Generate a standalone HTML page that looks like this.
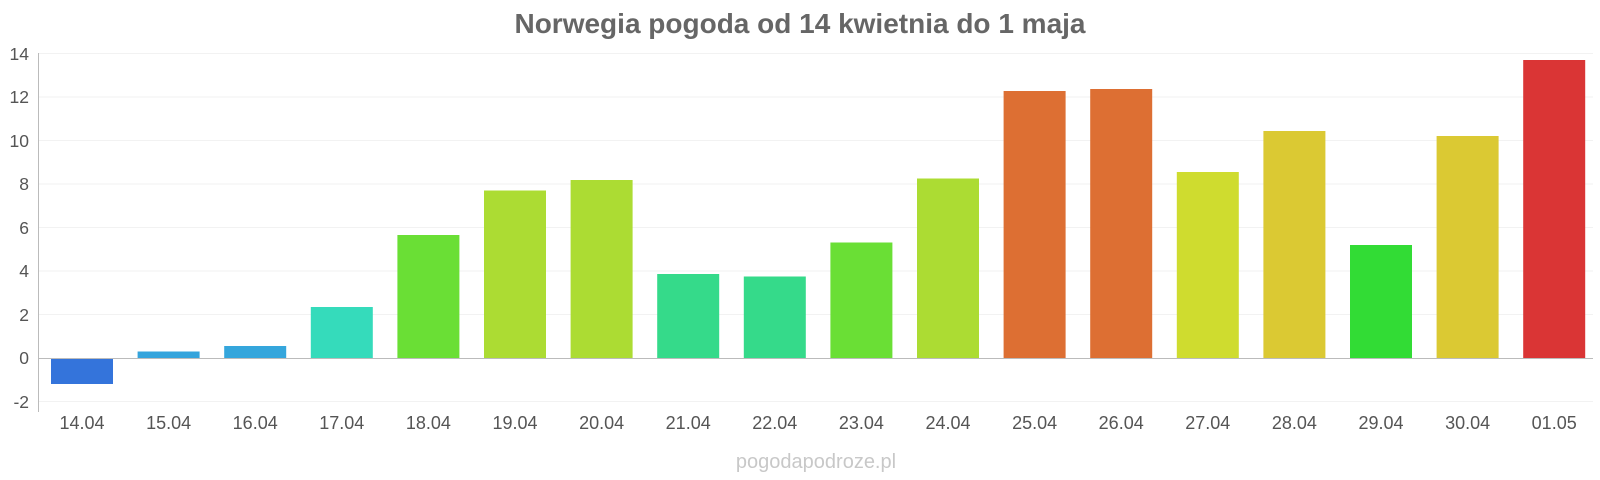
<!DOCTYPE html>
<html><head><meta charset="utf-8"><style>
html,body{margin:0;padding:0;background:#fff;}
svg{display:block;font-family:"Liberation Sans",sans-serif;}
</style></head><body>
<svg width="1600" height="480" viewBox="0 0 1600 480">
<text x="800" y="33" text-anchor="middle" font-size="28" font-weight="bold" fill="#666">Norwegia pogoda od 14 kwietnia do 1 maja</text>
<g stroke="#f2f2f2" stroke-width="1">
<line x1="38" x2="1593" y1="53.5" y2="53.5"/>
<line x1="38" x2="1593" y1="97" y2="97"/>
<line x1="38" x2="1593" y1="140.5" y2="140.5"/>
<line x1="38" x2="1593" y1="184" y2="184"/>
<line x1="38" x2="1593" y1="227.5" y2="227.5"/>
<line x1="38" x2="1593" y1="271" y2="271"/>
<line x1="38" x2="1593" y1="314.5" y2="314.5"/>
<line x1="38" x2="1593" y1="401.5" y2="401.5"/>
</g>
<g font-size="17.5" fill="#555" text-anchor="end">
<text x="29" y="60">14</text>
<text x="29" y="103">12</text>
<text x="29" y="147">10</text>
<text x="29" y="190">8</text>
<text x="29" y="234">6</text>
<text x="29" y="277">4</text>
<text x="29" y="321">2</text>
<text x="29" y="364">0</text>
<text x="29" y="408">-2</text>
</g>
<g>
<rect x="51" y="358" width="62" height="26" fill="#3474db"/>
<rect x="137.6" y="351.5" width="62" height="6.5" fill="#35a4dc"/>
<rect x="224.2" y="346" width="62" height="12" fill="#35a6dc"/>
<rect x="310.8" y="307" width="62" height="51" fill="#35dbbb"/>
<rect x="397.4" y="235" width="62" height="123" fill="#6adf35"/>
<rect x="484" y="190.5" width="62" height="167.5" fill="#acdc33"/>
<rect x="570.6" y="180" width="62" height="178" fill="#acdc33"/>
<rect x="657.2" y="274" width="62" height="84" fill="#35da8a"/>
<rect x="743.8" y="276.5" width="62" height="81.5" fill="#35da8a"/>
<rect x="830.4" y="242.5" width="62" height="115.5" fill="#6adf35"/>
<rect x="917" y="178.5" width="62" height="179.5" fill="#acdc33"/>
<rect x="1003.6" y="91" width="62" height="267" fill="#dd6f33"/>
<rect x="1090.2" y="89" width="62" height="269" fill="#dd6f33"/>
<rect x="1176.8" y="172" width="62" height="186" fill="#cfdc2f"/>
<rect x="1263.4" y="131" width="62" height="227" fill="#dbc933"/>
<rect x="1350" y="245" width="62" height="113" fill="#32dc35"/>
<rect x="1436.6" y="136" width="62" height="222" fill="#dbc933"/>
<rect x="1523.2" y="60" width="62" height="298" fill="#da3535"/>
</g>
<line x1="38" x2="1593" y1="358.5" y2="358.5" stroke="#bbb" stroke-width="1"/>
<line x1="38.5" x2="38.5" y1="53" y2="412" stroke="#bbb" stroke-width="1"/>
<g font-size="18" fill="#555" text-anchor="middle">
<text x="82" y="429">14.04</text>
<text x="168.6" y="429">15.04</text>
<text x="255.2" y="429">16.04</text>
<text x="341.8" y="429">17.04</text>
<text x="428.4" y="429">18.04</text>
<text x="515" y="429">19.04</text>
<text x="601.6" y="429">20.04</text>
<text x="688.2" y="429">21.04</text>
<text x="774.8" y="429">22.04</text>
<text x="861.4" y="429">23.04</text>
<text x="948" y="429">24.04</text>
<text x="1034.6" y="429">25.04</text>
<text x="1121.2" y="429">26.04</text>
<text x="1207.8" y="429">27.04</text>
<text x="1294.4" y="429">28.04</text>
<text x="1381" y="429">29.04</text>
<text x="1467.6" y="429">30.04</text>
<text x="1554.2" y="429">01.05</text>
</g>
<text x="816" y="468" text-anchor="middle" font-size="20" fill="#c8c8c8">pogodapodroze.pl</text>
</svg>
</body></html>
